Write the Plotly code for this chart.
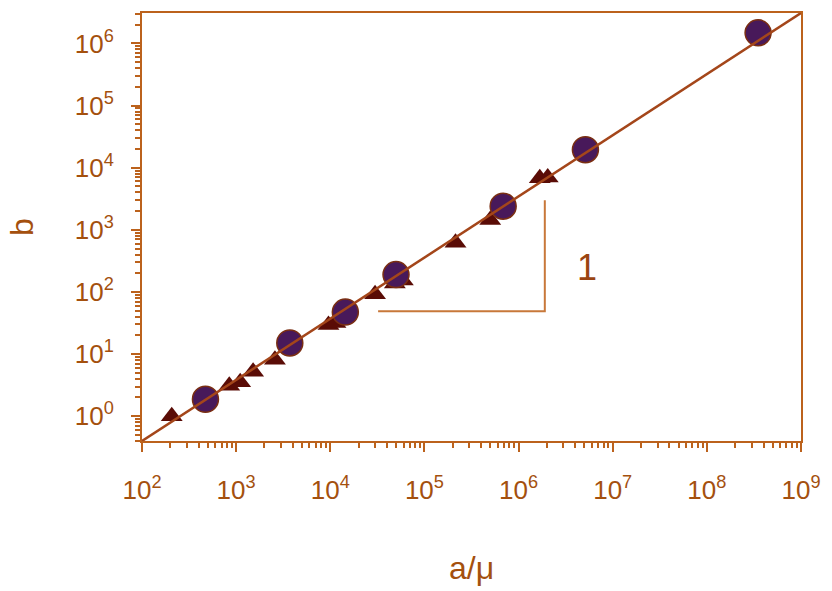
import plotly.graph_objects as go

# Data
circle_x = [472, 3715, 14450, 49900, 686000, 5.13e6, 3.5e8]
circle_y = [1.87, 15.1, 47.3, 190, 2400, 19500, 1.48e6]

tri_x = [207, 845, 1104, 1514, 2582, 9570, 11350, 29900, 48500, 59000,
         214000, 500000, 1.68e6, 2.04e6]
tri_y = [1.0, 3.1, 3.5, 5.2, 8.1, 29.3, 31.6, 91.6, 137, 153,
         618, 1440, 6730, 6980]

fit_x = [1e2, 1e9]
fit_y = [0.398, 3.09e6]

slope_x = [32200, 1.9e6, 1.9e6]
slope_y = [48.9, 48.9, 2980]
slope_label = "1"

x_tickvals = [1e2, 1e3, 1e4, 1e5, 1e6, 1e7, 1e8, 1e9]
x_ticktext = ["10<sup>%d</sup>" % e for e in range(2, 10)]
y_tickvals = [1e0, 1e1, 1e2, 1e3, 1e4, 1e5, 1e6]
y_ticktext = ["10<sup>%d</sup>" % e for e in range(0, 7)]

AX = "#bc621c"
TXT = "#a4500e"
FONT = "Liberation Sans, Arial, sans-serif"

fig = go.Figure()
fig.add_trace(go.Scatter(x=slope_x, y=slope_y, mode="lines",
                         line=dict(color="#c8783a", width=2), showlegend=False))
fig.add_trace(go.Scatter(x=tri_x, y=tri_y, mode="markers",
                         marker=dict(symbol="triangle-up", size=19, color="#5a0c06",
                                     line=dict(width=0)), showlegend=False))
fig.add_trace(go.Scatter(x=circle_x, y=circle_y, mode="markers",
                         marker=dict(symbol="circle", size=26, color="#48195a",
                                     line=dict(width=1.5, color="#7a2e12")), showlegend=False))
fig.add_trace(go.Scatter(x=fit_x, y=fit_y, mode="lines",
                         line=dict(color="#a4461a", width=2.5), showlegend=False))

fig.add_annotation(x=6.73, y=2.40, xref="x", yref="y", text=slope_label,
                   showarrow=False, font=dict(size=36, color="#9a4412", family=FONT))

axis_common = dict(type="log", showgrid=False, zeroline=False, showline=True,
                   linecolor=AX, linewidth=2, mirror=True,
                   ticks="outside", ticklen=9, tickwidth=2, tickcolor=AX,
                   tickfont=dict(size=26, color=TXT, family=FONT),
                   minor=dict(ticks="outside", ticklen=5, tickwidth=1.5, tickcolor=AX,
                              dtick="D1", showgrid=False))

fig.update_xaxes(range=[2, 9], tickvals=x_tickvals, ticktext=x_ticktext,
                 ticklabelstandoff=16,
                 title=dict(text="a/μ", font=dict(size=32, color=TXT, family=FONT), standoff=52),
                 **axis_common)
fig.update_yaxes(range=[-0.4, 6.49], tickvals=y_tickvals, ticktext=y_ticktext,
                 ticklabelstandoff=12,
                 title=dict(text="b", font=dict(size=32, color=TXT, family=FONT), standoff=32),
                 **axis_common)

fig.update_layout(width=832, height=591, margin=dict(l=142, r=26, t=11, b=148),
                  paper_bgcolor="white", plot_bgcolor="white")

fig.write_html("out.html")
